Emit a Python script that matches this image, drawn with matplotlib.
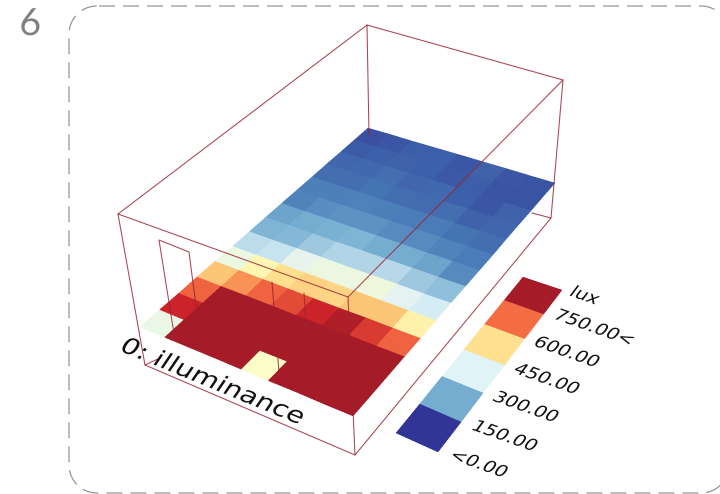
"""
illuminance grid on a floor plane, seen in perspective
"""
import numpy as np
import matplotlib as mpl
import matplotlib.pyplot as plt
from matplotlib.colors import LinearSegmentedColormap
from matplotlib.patheffects import AbstractPathEffect
from matplotlib.transforms import Affine2D

# lux per cell, first row is the one next to the window wall
row_00 = [325, 750, 750, 750, 365, 750, 750, 750]
row_01 = [690, 750, 750, 750, 750, 750, 750, 750]
row_02 = [610, 750, 750, 750, 750, 750, 750, 750]
row_03 = [490, 555, 610, 640, 690, 730, 660, 610]
row_04 = [330, 395, 450, 470, 465, 490, 490, 410]
row_05 = [250, 265, 315, 330, 330, 335, 310, 285]
row_06 = [165, 175, 210, 235, 235, 245, 210, 190]
row_07 = [140, 150, 160, 165, 150, 150, 140, 105]
row_08 = [ 95, 110, 115, 115, 105, 105,  95,  85]
row_09 = [ 88,  90,  92,  88,  85,  85,  75,  70]
row_10 = [ 70,  70,  75,  68,  65,  70,  55,  60]
row_11 = [ 60,  62,  68,  60,  62,  50,  40,  55]
row_12 = [ 45,  50,  55,  52,  42,  48,  38,  38]
row_13 = [ 35,  40,  48,  52,  40,  55,  40,  38]
lux = np.array([row_00, row_01, row_02, row_03, row_04, row_05, row_06,
                row_07, row_08, row_09, row_10, row_11, row_12, row_13])

legend_values = [0, 150, 300, 450, 600, 750]
legend_labels = ['<0.00', '150.00', '300.00', '450.00', '600.00', '750.00<', 'lux']

stop_values = [0, 75, 150, 300, 375, 450, 525, 600, 690, 750]
stop_colors = ['#313695', '#4575b4', '#74add1', '#e0f3f8', '#ffffbf',
               '#fee090', '#fdae61', '#f46d43', '#cc2429', '#a51c28']

# picture geometry, in pixels
W, H = 720, 494
SS = 3  # drawn this much larger, then averaged down
FLOOR = [(140, 327), (353, 416), (555, 183), (368, 128)]
LEGEND = [(396, 433), (438, 452), (562, 290), (523, 277)]
WIRE = [
    [(118, 214), (348, 297), (563, 80), (367, 25), (118, 214)],
    [(118, 214), (145, 365), (355, 455), (551, 218), (532, 213)],
    [(145, 365), (160, 358)],
    [(348, 297), (355, 455)],
    [(563, 80), (551, 218)],
    [(367, 25), (369, 135)],
    [(175, 340), (159, 240), (189, 252), (202, 352)],
    [(272, 282), (280, 385)],
    [(304, 293), (311, 398)],
]
LABEL_ANCHORS = [(448, 458), (470, 429), (491, 400), (512, 372),
                 (532, 345), (552, 318), (568, 295)]


def homography(quad):
    """unit square -> quad (order: u0v0, u1v0, u1v1, u0v1)"""
    src = [(0, 0), (1, 0), (1, 1), (0, 1)]
    A, b = [], []
    for (u, v), (x, y) in zip(src, quad):
        A.append([u, v, 1, 0, 0, 0, -u*x, -v*x])
        A.append([0, 0, 0, u, v, 1, -u*y, -v*y])
        b += [x, y]
    return np.append(np.linalg.solve(A, b), 1).reshape(3, 3)


def quad_mesh(quad, ncol, nrow):
    u, v = np.meshgrid(np.linspace(0, 1, ncol+1), np.linspace(0, 1, nrow+1))
    h = homography(quad)
    w = h[2, 0]*u + h[2, 1]*v + h[2, 2]
    return ((h[0, 0]*u + h[0, 1]*v + h[0, 2])/w,
            (h[1, 0]*u + h[1, 1]*v + h[1, 2])/w)


def frame_path(left=69, top=6, right=729, bottom=493, r=28):
    """rounded frame, clockwise from the end of the top left corner"""
    t = np.linspace(0, np.pi/2, 30)
    xs = np.r_[left+r+2, right-r+r*np.sin(t), right-r+r*np.cos(t),
               left+r-r*np.sin(t), left+r-r*np.cos(t)]
    ys = np.r_[top, top+r-r*np.cos(t), bottom-r+r*np.sin(t),
               bottom-r+r*np.cos(t), top+r-r*np.sin(t)]
    return xs, ys


class PlaneText(AbstractPathEffect):
    """shear the glyphs about their anchor so they lie on the floor plane"""
    def __init__(self, anchor, base, up):
        self.px, self.py = anchor[0]*SS, (H - anchor[1])*SS
        self.m = Affine2D.from_values(base[0], -base[1], up[0], -up[1], 0, 0)

    def draw_path(self, renderer, gc, tpath, affine, rgbFace=None):
        t = Affine2D().translate(-self.px, -self.py) + self.m \
            + Affine2D().translate(self.px, self.py)
        renderer.draw_path(gc, tpath, affine + t, rgbFace)


def plane_text(ax, anchor, s, size, base, up):
    txt = ax.text(anchor[0], anchor[1], s, fontsize=size, color='#111111',
                  ha='left', va='baseline', family='DejaVu Sans')
    txt.set_path_effects([PlaneText(anchor, base, up)])


def main():
    mpl.rcParams['lines.scale_dashes'] = False
    fig = plt.figure(figsize=(W/100, H/100), dpi=100*SS)
    ax = fig.add_axes([0, 0, 1, 1])
    ax.set_xlim(0, W)
    ax.set_ylim(H, 0)
    ax.axis('off')

    cmap = LinearSegmentedColormap.from_list(
        'lux', [(v/750, c) for v, c in zip(stop_values, stop_colors)])

    fx, fy = frame_path()
    ax.plot(fx, fy, color='#8f8f8f', lw=0.85, ls=(0, (11.52, 5.76)))
    ax.text(30, 35, '6', fontsize=27, color='#808080', ha='center',
            va='baseline', family='Lato')

    x, y = quad_mesh(FLOOR, lux.shape[1], lux.shape[0])
    ax.pcolormesh(x, y, lux, cmap=cmap, vmin=0, vmax=750, antialiased=False,
                  zorder=2)

    lx, ly = quad_mesh(LEGEND, 1, len(legend_values))
    ax.pcolormesh(lx, ly, np.array(legend_values)[:, None], cmap=cmap,
                  vmin=0, vmax=750, antialiased=False, zorder=2)

    for seg in WIRE:
        px, py = zip(*seg)
        ax.plot(px, py, color='#9c2233', lw=0.75, alpha=0.85, zorder=3,
                solid_joinstyle='round')

    plane_text(ax, (118, 350), '0: illuminance', 10,
               (1.85, 0.76), (0.95, -1.40))
    for anchor, label in zip(LABEL_ANCHORS, legend_labels):
        plane_text(ax, anchor, label, 10, (1.30, 0.46), (0.75, -1.0))

    # box average down to the final size, softens the cell and glyph edges
    fig.canvas.draw()
    buf = np.asarray(fig.canvas.buffer_rgba())[:H*SS, :W*SS, :3] / 255.0
    small = buf.reshape(H, SS, W, SS, 3).mean(axis=(1, 3))
    plt.imsave('out.png', small)


if __name__ == '__main__':
    main()
